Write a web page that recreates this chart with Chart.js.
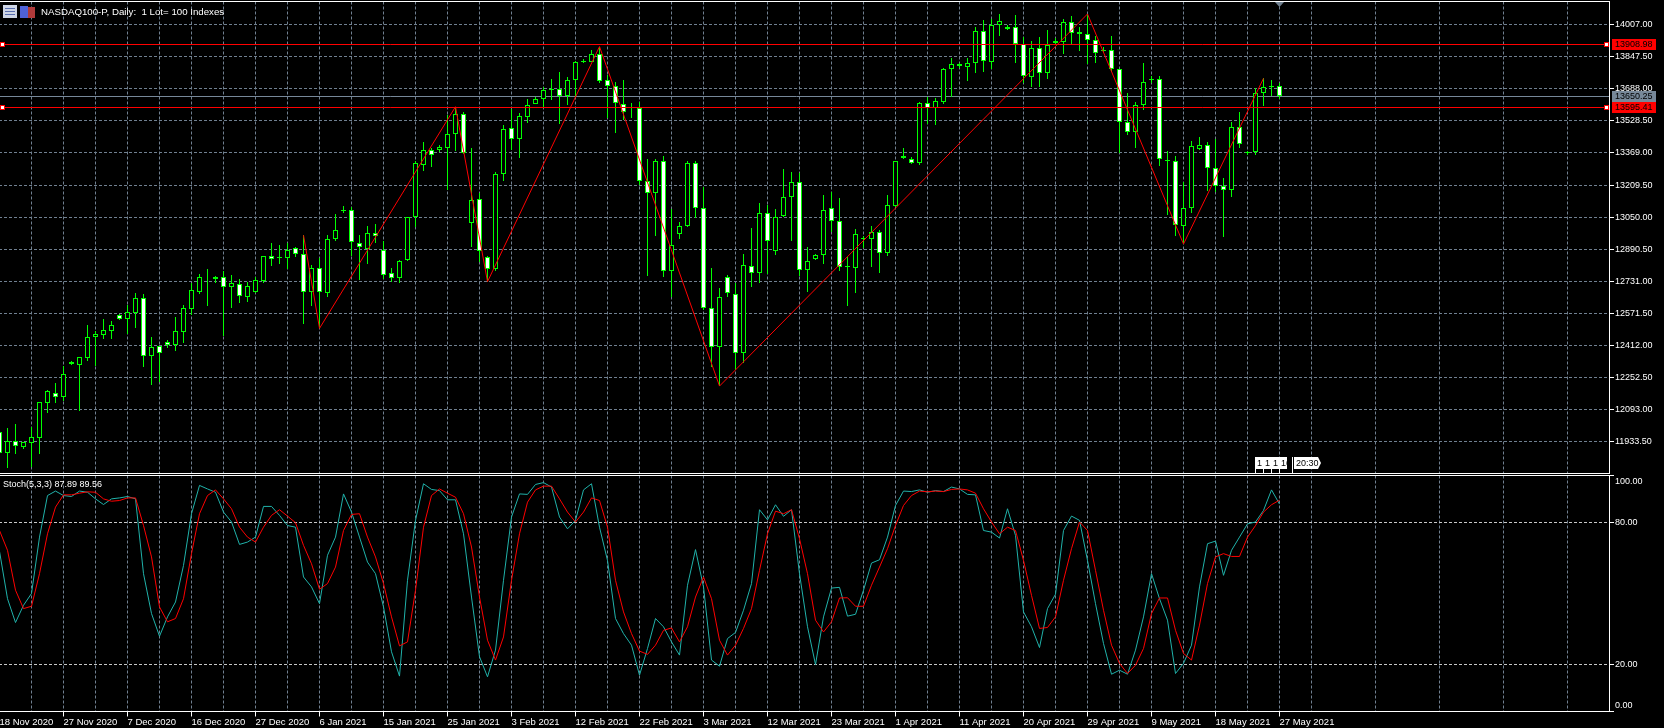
<!DOCTYPE html>
<html>
<head>
<meta charset="utf-8">
<title>NASDAQ100-P, Daily</title>
<script src="https://cdn.jsdelivr.net/npm/chart.js@4/dist/chart.umd.min.js"></script>
<style>
html, body { margin: 0; padding: 0; width: 1664px; height: 728px; background: #000; overflow: hidden; }
canvas { position: absolute; left: -16px; }
#priceChart { top: 0; }
#stochChart { top: 474px; }
</style>
</head>
<body>
<canvas id="priceChart" width="1680" height="474"></canvas>
<canvas id="stochChart" width="1680" height="254"></canvas>
<script>
const open = [
	11982, 11879, 11939, 11909, 11929, 11954, 12128, 12177, 12157, 12328,
	12317, 12351, 12452, 12466, 12486, 12562, 12545, 12575, 12646, 12361,
	12408, 12428, 12416, 12481, 12595, 12680, 12750, 12741, 12751, 12701,
	12719, 12655, 12680, 12734, 12855, 12850, 12849, 12895, 12865, 12678,
	12796, 12671, 12940, 13082, 13084, 12923, 12890, 12970, 12887, 12771,
	12746, 12835, 13049, 13311, 13382, 13385, 13395, 13462, 13561, 13023,
	13139, 12850, 12794, 13263, 13492, 13440, 13550, 13614, 13636, 13685,
	13685, 13654, 13730, 13828, 13823, 13859, 13730, 13700, 13614, 13599,
	13591, 13228, 13172, 13327, 12781, 12968, 13008, 13318, 13094, 12597,
	12406, 12754, 12666, 12373, 12805, 12774, 13069, 12880, 13057, 13149,
	13223, 12786, 12840, 12863, 13094, 13029, 12805, 12799, 12940, 12943,
	12975, 12873, 13107, 13346, 13337, 13321, 13616, 13591, 13624, 13785,
	13810, 13798, 13815, 13974, 13823, 14004, 13994, 13994, 13909, 13748,
	13889, 13765, 13916, 13919, 14019, 13969, 13959, 13929, 13878, 13879,
	13785, 13521, 13472, 13606, 13732, 13735, 13327, 13327, 13008, 13094,
	13387, 13407, 13293, 13203, 13183, 13497, 13369, 13372, 13666, 13695,
	13704
];
const high = [
	12025, 12000, 12022, 11934, 12005, 12129, 12191, 12224, 12310, 12333,
	12353, 12514, 12486, 12542, 12535, 12568, 12613, 12671, 12668, 12456,
	12409, 12439, 12555, 12613, 12721, 12767, 12790, 12757, 12784, 12762,
	12741, 12729, 12751, 12855, 12921, 12911, 12920, 12900, 12960, 12812,
	12845, 12961, 13066, 13105, 13099, 12961, 13006, 13016, 12930, 12796,
	12835, 13052, 13327, 13422, 13392, 13407, 13558, 13599, 13571, 13392,
	13168, 12857, 13276, 13506, 13586, 13566, 13637, 13646, 13695, 13735,
	13770, 13745, 13825, 13838, 13881, 13898, 13757, 13720, 13732, 13616,
	13624, 13337, 13337, 13354, 13091, 13028, 13327, 13327, 13198, 12797,
	12696, 12761, 12721, 12867, 12994, 13119, 13110, 13089, 13289, 13274,
	13270, 12900, 12867, 13160, 13175, 13144, 12854, 12991, 12956, 13006,
	12986, 13160, 13327, 13392, 13347, 13624, 13649, 13641, 13790, 13840,
	13815, 13840, 13994, 14030, 14035, 14060, 14004, 14055, 13944, 13924,
	13944, 13980, 13939, 14034, 14050, 13994, 14060, 13951, 13898, 13951,
	13785, 13666, 13623, 13815, 13752, 13752, 13377, 13354, 13226, 13429,
	13447, 13422, 13437, 13243, 13523, 13573, 13381, 13690, 13740, 13732,
	13715
];
const low = [
	11809, 11804, 11872, 11897, 11809, 11872, 12078, 12128, 12136, 12315,
	12088, 12335, 12310, 12444, 12444, 12539, 12469, 12499, 12307, 12215,
	12232, 12401, 12386, 12426, 12564, 12668, 12608, 12724, 12459, 12597,
	12625, 12630, 12674, 12724, 12807, 12817, 12794, 12854, 12519, 12608,
	12497, 12655, 12931, 13069, 12857, 12738, 12817, 12923, 12741, 12729,
	12724, 12830, 13003, 13281, 13301, 13372, 13185, 13379, 13364, 12903,
	12829, 12729, 12784, 13230, 13384, 13346, 13520, 13614, 13599, 13632,
	13513, 13608, 13649, 13815, 13821, 13715, 13541, 13470, 13533, 13541,
	13210, 12757, 12956, 12754, 12651, 12941, 12999, 13046, 12588, 12307,
	12210, 12655, 12290, 12326, 12704, 12724, 12767, 12862, 13049, 12933,
	12757, 12680, 12837, 12817, 12976, 12784, 12608, 12674, 12895, 12804,
	12774, 12857, 13102, 13337, 13314, 13309, 13513, 13508, 13613, 13649,
	13790, 13727, 13768, 13773, 13785, 13951, 13980, 13818, 13719, 13695,
	13695, 13735, 13906, 13861, 13911, 13878, 13811, 13818, 13873, 13778,
	13371, 13458, 13392, 13583, 13719, 13306, 13061, 12956, 12916, 13072,
	13384, 13182, 13177, 12953, 13152, 13394, 13357, 13361, 13603, 13652,
	13636
];
const close = [
	11879, 11939, 11912, 11934, 11955, 12129, 12184, 12154, 12269, 12318,
	12353, 12452, 12467, 12487, 12512, 12545, 12577, 12646, 12361, 12403,
	12373, 12414, 12482, 12597, 12686, 12751, 12751, 12751, 12701, 12721,
	12656, 12706, 12736, 12855, 12844, 12845, 12887, 12865, 12676, 12796,
	12676, 12940, 12984, 13084, 12925, 12900, 12970, 12958, 12761, 12746,
	12830, 13049, 13318, 13382, 13357, 13397, 13462, 13561, 13367, 13134,
	12880, 12794, 13263, 13487, 13440, 13551, 13606, 13636, 13681, 13681,
	13654, 13730, 13820, 13823, 13859, 13729, 13700, 13616, 13571, 13594,
	13228, 13168, 13327, 12781, 12910, 13004, 13318, 13094, 12597, 12406,
	12651, 12671, 12373, 12810, 12771, 13069, 12933, 13052, 13149, 13223,
	12786, 12830, 12860, 13084, 13029, 12804, 12800, 12965, 12945, 12975,
	12870, 13109, 13327, 13352, 13321, 13616, 13591, 13626, 13785, 13810,
	13800, 13815, 13974, 13825, 14005, 14024, 13987, 13909, 13750, 13889,
	13765, 13904, 13924, 14019, 13964, 13959, 13929, 13864, 13881, 13785,
	13521, 13472, 13606, 13720, 13735, 13337, 13332, 13009, 13094, 13402,
	13407, 13293, 13203, 13183, 13497, 13412, 13372, 13666, 13695, 13704,
	13650.25
];
const stochMain = [
	67.9, 47.8, 37.7, 45.0, 50.0, 73.9, 91.5, 93.4, 91.5, 91.1,
	93.4, 92.9, 90.1, 87.7, 90.1, 90.5, 91.1, 90.1, 58.4, 41.5,
	31.9, 40.1, 46.4, 61.9, 83.8, 95.8, 94.3, 92.9, 84.5, 80.3,
	70.8, 71.8, 73.9, 86.9, 86.9, 83.1, 78.8, 78.1, 57.0, 52.8,
	45.7, 66.2, 73.9, 92.2, 84.5, 73.9, 63.3, 58.4, 44.3, 25.3,
	15.0, 55.6, 81.0, 96.5, 94.1, 93.6, 89.7, 89.7, 75.3, 48.5,
	23.2, 14.7, 26.0, 55.6, 82.4, 92.2, 92.0, 96.2, 97.0, 95.1,
	82.4, 77.4, 81.0, 93.9, 96.5, 78.1, 64.0, 39.4, 33.0, 28.1,
	15.4, 26.7, 39.4, 35.9, 29.5, 23.9, 53.5, 68.6, 52.8, 21.8,
	19.2, 30.9, 33.5, 42.9, 54.2, 85.5, 81.2, 87.6, 82.7, 85.5,
	58.4, 35.9, 19.9, 40.1, 52.3, 52.6, 40.4, 41.2, 51.4, 62.9,
	64.3, 73.9, 87.3, 93.4, 93.2, 93.9, 92.9, 93.6, 93.2, 95.1,
	94.3, 92.0, 91.8, 76.7, 76.0, 73.5, 85.9, 74.6, 42.2, 35.9,
	27.1, 43.6, 49.7, 76.7, 82.8, 81.0, 64.0, 45.7, 28.8, 15.8,
	17.5, 15.8, 26.0, 40.1, 58.4, 47.8, 38.7, 16.1, 20.4, 28.1,
	52.8, 71.1, 72.2, 57.7, 68.3, 73.9, 79.5, 80.3, 85.2, 93.9,
	87.89
];
const stochSignal = [
	76.7, 68.3, 51.4, 43.6, 44.6, 58.4, 75.3, 86.6, 91.8, 91.8,
	92.5, 93.1, 92.9, 90.1, 89.1, 89.4, 90.5, 90.5, 78.8, 65.5,
	44.3, 38.0, 39.4, 47.8, 66.9, 83.8, 91.5, 93.9, 90.1, 85.9,
	78.1, 73.9, 71.8, 78.1, 83.1, 85.5, 82.8, 80.0, 70.4, 62.6,
	51.8, 54.2, 61.2, 76.7, 83.5, 83.8, 73.9, 65.5, 54.2, 40.1,
	27.8, 29.5, 51.4, 78.1, 91.5, 94.3, 92.5, 90.8, 83.8, 69.7,
	48.5, 30.2, 21.8, 31.6, 55.6, 75.3, 88.7, 93.9, 95.5, 95.5,
	90.1, 84.5, 80.3, 84.5, 90.5, 89.4, 78.1, 55.6, 42.2, 33.0,
	25.6, 24.2, 28.1, 34.4, 35.4, 29.5, 35.9, 48.5, 57.0, 47.8,
	30.2, 23.9, 28.1, 35.2, 43.6, 59.8, 75.3, 84.9, 83.8, 85.5,
	73.2, 58.4, 38.7, 33.7, 38.0, 48.1, 48.2, 44.6, 44.6, 53.5,
	61.2, 69.0, 78.8, 87.3, 91.5, 93.4, 93.1, 93.4, 93.2, 94.1,
	94.3, 93.9, 92.5, 85.9, 80.3, 75.3, 78.1, 76.7, 64.0, 49.2,
	35.2, 35.6, 40.1, 55.6, 69.0, 80.3, 76.7, 59.8, 42.9, 28.1,
	20.4, 16.1, 19.6, 26.7, 41.5, 48.1, 48.1, 34.4, 24.6, 21.8,
	36.6, 54.2, 65.5, 66.9, 65.7, 65.7, 73.9, 78.8, 84.5, 87.6,
	89.56
];
const zigzagBars = [38, 40, 57, 61, 75, 90, 136, 148, 158];
const zigzagPrices = [12960, 12497, 13599, 12729, 13898, 12210, 14060, 12916, 13740];

const priceTicks = [14007, 13847.5, 13688, 13528.5, 13369, 13209.5, 13050, 12890.5, 12731, 12571.5, 12412, 12252.5, 12093, 11933.5];
const stochTicks = [100, 80, 20, 0];
const dateLabels = [
	'18 Nov 2020', '27 Nov 2020', '7 Dec 2020', '16 Dec 2020', '27 Dec 2020', '6 Jan 2021', '15 Jan 2021',
	'25 Jan 2021', '3 Feb 2021', '12 Feb 2021', '22 Feb 2021', '3 Mar 2021', '12 Mar 2021', '23 Mar 2021',
	'1 Apr 2021', '11 Apr 2021', '20 Apr 2021', '29 Apr 2021', '9 May 2021', '18 May 2021', '27 May 2021'
];
const levelPrices = [13908.98, 13595.41];
const lastPrice = 13650.25;
const tagPrices = [13908.98, 13650.25, 13595.41];
const tagColors = ['#ff0000', '#778899', '#ff0000'];
const flagBars = [157, 158, 159, 160];
const flagTexts = ['1', '1', '1', '16'];

const FONT = 'Liberation Sans';
const GREEN = '#00ff00';
const GRID = '#708090';
const BARS_PER_LABEL = 8;
const X_MIN = -1.9375;
const X_MAX = 201.1875;

Chart.defaults.font.family = FONT;
Chart.defaults.font.size = 9;
Chart.defaults.color = '#fff';

function series(values) {
	return values.map((v, i) => ({x: i, y: v}));
}

function levelLine(price) {
	return [{x: X_MIN, y: price}, {x: X_MAX, y: price}];
}

// labels may hang past the plot, so drop the padding the layout reserves for them
function noLabelPadding(scale) {
	scale.paddingTop = 0;
	scale.paddingBottom = 0;
	scale.paddingLeft = 0;
	scale.paddingRight = 0;
}

function timeAxis(showLabels) {
	return {
		type: 'linear',
		offset: false,
		min: X_MIN,
		max: X_MAX,
		afterFit: (scale) => {
			scale.height = showLabels ? 16.5 : 0.5;
			noLabelPadding(scale);
		},
		border: {display: false, dash: [3, 2]},
		grid: {
			offset: false,
			color: GRID,
			drawTicks: showLabels,
			tickLength: 5,
			tickBorderDash: [],
			tickColor: (ctx) => ctx.tick && ctx.tick.value % BARS_PER_LABEL === 0 ? '#fff' : 'transparent'
		},
		ticks: {
			display: showLabels,
			stepSize: 4,
			includeBounds: false,
			autoSkip: false,
			maxRotation: 0,
			align: 'start',
			padding: 0,
			font: {size: 9.5},
			callback: (v) => v % BARS_PER_LABEL === 0 ? dateLabels[v / BARS_PER_LABEL] : ''
		}
	};
}

function valueAxis(min, max, tickValues, gridColor, labelFor) {
	return {
		position: 'right',
		min: min,
		max: max,
		afterFit: (scale) => {
			scale.width = 55;
			noLabelPadding(scale);
		},
		afterBuildTicks: (scale) => { scale.ticks = tickValues.map((v) => ({value: v})); },
		border: {display: false, dash: [3, 2]},
		grid: {color: gridColor, tickColor: '#fff', tickLength: 5, tickBorderDash: []},
		ticks: {padding: 1, autoSkip: false, callback: labelFor}
	};
}

// square candle edges and level lines onto whole pixels, the way the terminal draws them
const crispBars = {
	id: 'crispBars',
	afterDatasetsUpdate(chart) {
		chart.getSortedVisibleDatasetMetas().forEach((m) => {
			if (m.type === 'bar') {
				m.data.forEach((el) => {
					el.y = Math.round(el.y);
					el.base = Math.round(el.base);
				});
			} else if (m.data.length === 2) {
				m.data.forEach((el) => { el.y = Math.floor(el.y) + 0.5; });
			}
		});
	}
};

function drawFrame(chart) {
	const {ctx, chartArea} = chart;
	ctx.save();
	ctx.strokeStyle = '#fff';
	ctx.lineWidth = 1;
	ctx.strokeRect(chartArea.left - 2, chartArea.top, chartArea.right - chartArea.left + 2.5, chartArea.bottom - chartArea.top);
	ctx.restore();
}

function labelText(ctx, text, x, y, color, font) {
	ctx.font = font || ('9px "' + FONT + '"');
	ctx.fillStyle = color || '#fff';
	ctx.textAlign = 'left';
	ctx.textBaseline = 'middle';
	ctx.fillText(text, x, y);
}

const priceOverlay = {
	id: 'priceOverlay',
	afterDraw(chart) {
		const {ctx, scales: {x, y}, chartArea} = chart;
		drawFrame(chart);
		ctx.save();

		// symbol icons and title
		ctx.fillStyle = '#cfd6e6';
		ctx.fillRect(19, 5, 14, 13);
		ctx.fillStyle = '#5a6fb0';
		ctx.fillRect(21, 8, 10, 1);
		ctx.fillRect(21, 11, 10, 1);
		ctx.fillRect(21, 14, 10, 1);
		ctx.fillStyle = '#4f62d8';
		ctx.fillRect(36, 6, 8, 12);
		ctx.fillStyle = '#b03a3a';
		ctx.fillRect(44, 7, 7, 11);
		labelText(ctx, 'NASDAQ100-P, Daily:  1 Lot= 100 Indexes', 57, 12, '#fff', '9.7px "' + FONT + '"');

		// drag handles on the two levels
		levelPrices.forEach((p) => {
			const py = Math.floor(y.getPixelForValue(p));
			[16, chartArea.right - 5].forEach((px) => {
				ctx.fillStyle = '#ff0000';
				ctx.fillRect(px, py - 2, 5, 5);
				ctx.fillStyle = '#fff';
				ctx.fillRect(px + 1, py - 1, 3, 3);
			});
		});

		// price tags on the axis
		tagPrices.forEach((p, i) => {
			const py = y.getPixelForValue(p);
			ctx.fillStyle = tagColors[i];
			ctx.fillRect(chartArea.right + 3, Math.round(py - 5.5), 44, 11);
			labelText(ctx, p.toFixed(2), chartArea.right + 6, py + 0.5, '#000');
		});

		// period separator flags
		const flagTop = 457;
		flagBars.forEach((bar, i) => {
			const left = Math.floor(x.getPixelForValue(bar));
			ctx.fillStyle = '#fff';
			ctx.fillRect(left, flagTop, 1, 16);
			ctx.fillRect(left, flagTop, 8, 12);
			ctx.save();
			ctx.beginPath();
			ctx.rect(left, flagTop, 8, 12);
			ctx.clip();
			labelText(ctx, flagTexts[i], left + 2, flagTop + 6.5, '#000');
			ctx.restore();
		});
		const timeLeft = Math.floor(x.getPixelForValue(flagBars[3])) + 13;
		ctx.fillStyle = '#fff';
		ctx.fillRect(timeLeft, flagTop, 1, 16);
		ctx.beginPath();
		ctx.moveTo(timeLeft + 2, flagTop);
		ctx.lineTo(timeLeft + 26, flagTop);
		ctx.lineTo(timeLeft + 29, flagTop + 6);
		ctx.lineTo(timeLeft + 26, flagTop + 12);
		ctx.lineTo(timeLeft + 2, flagTop + 12);
		ctx.closePath();
		ctx.fill();
		labelText(ctx, '20:30', timeLeft + 4, flagTop + 6.5, '#000');

		// shift marker at the last bar
		const markX = x.getPixelForValue(flagBars[3]);
		ctx.fillStyle = GRID;
		ctx.beginPath();
		ctx.moveTo(markX - 4.5, 2);
		ctx.lineTo(markX + 4.5, 2);
		ctx.lineTo(markX, 7);
		ctx.closePath();
		ctx.fill();
		ctx.restore();
	}
};

const stochOverlay = {
	id: 'stochOverlay',
	afterDraw(chart) {
		const {ctx, scales: {y}, chartArea} = chart;
		drawFrame(chart);
		ctx.save();
		labelText(ctx, 'Stoch(5,3,3) 87.89 89.56', 19, 10.5, '#fff', '9px "' + FONT + '"');
		labelText(ctx, '100.00', chartArea.right + 6, y.getPixelForValue(100) + 6);
		labelText(ctx, '0.00', chartArea.right + 6, y.getPixelForValue(0) - 5.5);
		ctx.restore();
	}
};

function drawPriceChart() {
	new Chart(document.getElementById('priceChart').getContext('2d'), {
		type: 'bar',
		plugins: [crispBars, priceOverlay],
		data: {
			datasets: [{
				label: 'Range',
				order: 4,
				data: high.map((h, i) => ({x: i, y: [low[i], h]})),
				backgroundColor: GREEN,
				barThickness: 1,
				inflateAmount: 0,
				grouped: false
			}, {
				label: 'Body',
				order: 3,
				data: open.map((o, i) => ({x: i, y: [o, close[i]]})),
				backgroundColor: open.map((o, i) => close[i] < o ? '#fff' : '#000'),
				borderColor: GREEN,
				borderWidth: 1,
				borderSkipped: false,
				barThickness: 5,
				inflateAmount: 0,
				grouped: false
			}, {
				type: 'line',
				label: 'Last',
				order: 5,
				data: levelLine(lastPrice),
				borderColor: '#778899',
				borderWidth: 1,
				pointRadius: 0
			}, {
				type: 'line',
				label: 'Upper level',
				order: 2,
				data: levelLine(levelPrices[0]),
				borderColor: '#ff0000',
				borderWidth: 1,
				pointRadius: 0
			}, {
				type: 'line',
				label: 'Lower level',
				order: 2,
				data: levelLine(levelPrices[1]),
				borderColor: '#ff0000',
				borderWidth: 1,
				pointRadius: 0
			}, {
				type: 'line',
				label: 'ZigZag',
				order: 1,
				data: zigzagBars.map((bar, i) => ({x: bar, y: zigzagPrices[i]})),
				borderColor: '#ff0000',
				borderWidth: 1,
				pointRadius: 0
			}]
		},
		options: {
			responsive: false,
			animation: false,
			devicePixelRatio: 1,
			layout: {autoPadding: false, padding: {top: 1.5}},
			plugins: {legend: {display: false}, tooltip: {enabled: false}},
			scales: {
				x: timeAxis(false),
				y: valueAxis(11775.3, 14122.1, priceTicks, GRID, (v) => v.toFixed(2))
			}
		}
	});
}

function drawStochChart() {
	new Chart(document.getElementById('stochChart').getContext('2d'), {
		type: 'line',
		plugins: [stochOverlay],
		data: {
			datasets: [{
				label: '%K',
				order: 2,
				data: series(stochMain),
				borderColor: '#20b2aa',
				borderWidth: 1,
				pointRadius: 0
			}, {
				label: '%D',
				order: 1,
				data: series(stochSignal),
				borderColor: '#ff0000',
				borderWidth: 1,
				pointRadius: 0
			}]
		},
		options: {
			responsive: false,
			animation: false,
			devicePixelRatio: 1,
			layout: {autoPadding: false, padding: {top: 1.5}},
			plugins: {legend: {display: false}, tooltip: {enabled: false}},
			scales: {
				x: timeAxis(true),
				y: valueAxis(0, 100, stochTicks, (ctx) => ctx.tick && (ctx.tick.value === 80 || ctx.tick.value === 20) ? '#c8c8c8' : 'transparent',
					(v) => (v === 100 || v === 0) ? '' : v.toFixed(2))
			}
		}
	});
}

drawPriceChart();
drawStochChart();
</script>
</body>
</html>
